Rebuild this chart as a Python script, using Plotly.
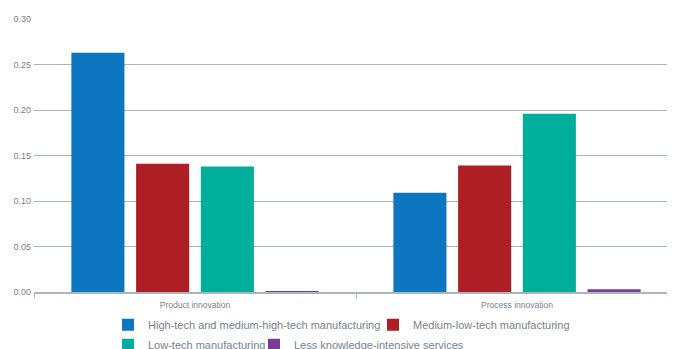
import plotly.graph_objects as go

categories = ["Product innovation", "Process innovation"]
series_names = [
    "High-tech and medium-high-tech manufacturing",
    "Medium-low-tech manufacturing",
    "Low-tech manufacturing",
    "Less knowledge-intensive services",
]
high_tech = [0.263, 0.109]
medium_low = [0.141, 0.139]
low_tech = [0.138, 0.196]
less_ki = [0.001, 0.003]
colors = ["#0c77c0", "#ad1f24", "#00ae9b", "#7b3b96"]
y_ticks = [0.0, 0.05, 0.10, 0.15, 0.20, 0.25, 0.30]

legend_ids = ["legend", "legend", "legend2", "legend2"]
legend_widths = [220, None, 101, None]

fig = go.Figure()
for name, vals, col, lg, lw in zip(series_names, [high_tech, medium_low, low_tech, less_ki],
                                   colors, legend_ids, legend_widths):
    fig.add_trace(go.Bar(x=categories, y=vals, name=name, marker_color=col,
                         marker_line_width=0, legend=lg, legendwidth=lw))

grid = "#a9b6c0"
txt = "#76828d"
leg_common = dict(orientation="h", xref="container", yref="container",
                  xanchor="left", yanchor="top", itemwidth=30,
                  font=dict(size=11, color=txt, family="Liberation Sans, Arial"),
                  traceorder="normal", bgcolor="rgba(0,0,0,0)")
fig.update_layout(
    width=667, height=349,
    margin=dict(l=26, r=0, t=11, b=65, autoexpand=False),
    plot_bgcolor="white", paper_bgcolor="white",
    barmode="group", bargap=0.196, bargroupgap=0.18,
    font=dict(family="Liberation Sans, Arial", color=txt),
    legend=dict(x=100 / 667, y=0.134, **leg_common),
    legend2=dict(x=100 / 667, y=0.077, **leg_common),
    showlegend=True,
)
fig.update_yaxes(
    range=[0, 0.30], tickvals=y_ticks, tickformat=".2f",
    showgrid=True, gridcolor=grid, gridwidth=1, zeroline=False,
    tickfont=dict(size=9, color=txt), ticklabelstandoff=2,
    ticks="", showline=False, automargin=False,
)
fig.update_xaxes(
    range=[-0.5, -0.5 + 641 / 322],
    showline=True, linecolor=grid, linewidth=1.5,
    ticks="outside", tickson="boundaries", ticklen=4, tickcolor=grid,
    tickfont=dict(size=8.5, color=txt), ticklabelstandoff=4, automargin=False,
)
fig.write_html("out.html")
